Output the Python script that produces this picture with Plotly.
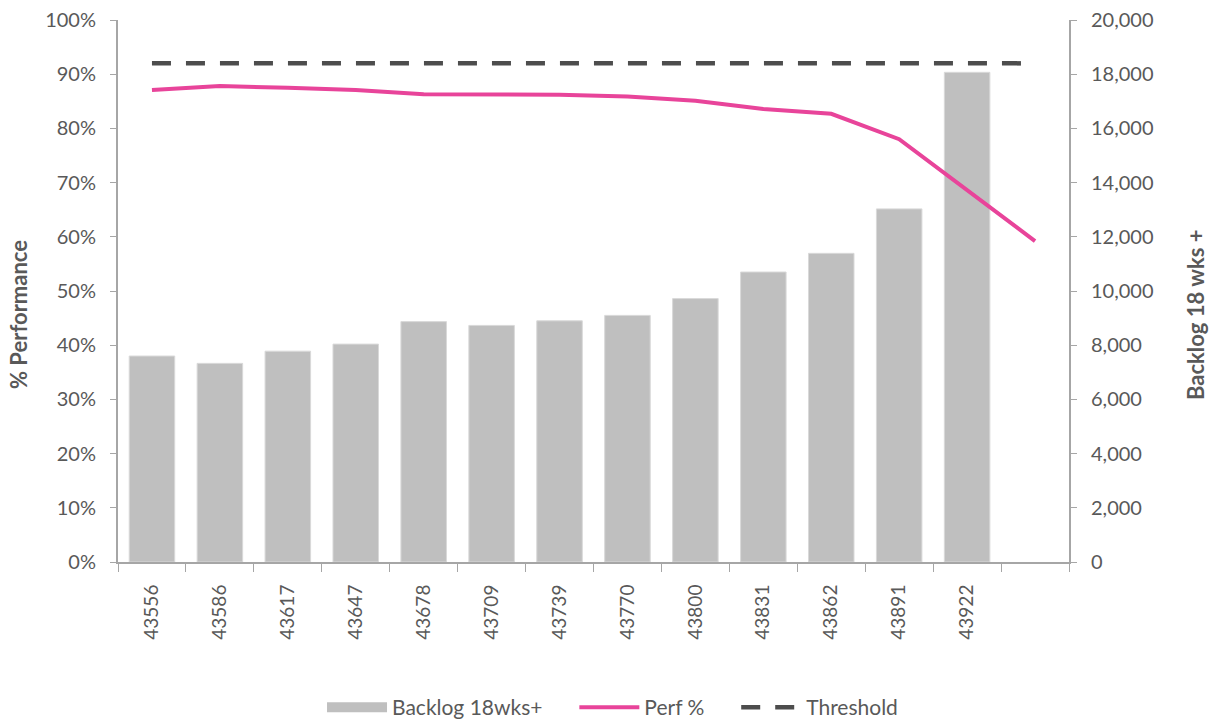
import plotly.graph_objects as go

# Month serials (last slot left blank on the category axis)
months = ["43556", "43586", "43617", "43647", "43678", "43709", "43739",
          "43770", "43800", "43831", "43862", "43891", "43922", " "]
backlog = [7600, 7330, 7780, 8040, 8870, 8730, 8900,
           9100, 9720, 10700, 11390, 13030, 18070]
perf = [0.871, 0.878, 0.875, 0.871, 0.863, 0.863, 0.862,
        0.859, 0.851, 0.836, 0.827, 0.780, 0.686, 0.592]
threshold = [0.92] * len(months)

FONT = "Lato"
TXT = "#595959"
AX = "#a6a6a6"
BAR = "#bfbfbf"
PAD = "\u00a0" * 5  # spacing after each legend label

fig = go.Figure()

fig.add_trace(go.Bar(
    x=months[:len(backlog)], y=backlog, name="Backlog 18wks+",
    marker=dict(color=BAR, line=dict(color="#d9d9d9", width=1)),
    width=0.67, yaxis="y", showlegend=False, legendgroup="backlog",
))
# wide swatch for the backlog legend entry
fig.add_trace(go.Scatter(
    x=[months[0]], y=[None], name="Backlog 18wks+" + PAD, mode="lines",
    line=dict(color=BAR, width=15), yaxis="y", legendgroup="backlog",
))
fig.add_trace(go.Scatter(
    x=months, y=perf, name="Perf %" + PAD, mode="lines",
    line=dict(color="#E8449A", width=4), yaxis="y2",
))
fig.add_trace(go.Scatter(
    x=months, y=threshold, name="Threshold", mode="lines",
    line=dict(color="#4d4d4d", width=4.5, dash="19px,15px"), yaxis="y2",
))

fig.update_layout(
    width=1217, height=722,
    margin=dict(l=118, r=148, t=20, b=160, autoexpand=False),
    plot_bgcolor="white", paper_bgcolor="white",
    font=dict(family=FONT, size=20, color=TXT),
    showlegend=True,
    legend=dict(orientation="h", x=0.52, xanchor="center",
                yref="container", y=0.02, yanchor="middle",
                font=dict(size=21, color=TXT), traceorder="normal",
                itemwidth=60),
    xaxis=dict(
        type="category", categoryorder="array", categoryarray=months,
        tickangle=-90, tickson="boundaries", ticks="outside", ticklen=8,
        tickcolor=AX, showline=True, linecolor=AX, linewidth=2,
        showgrid=False, tickfont=dict(size=19, color=TXT),
        ticklabelstandoff=13, automargin=False,
        range=[-0.5, len(months) - 0.5],
    ),
    yaxis=dict(
        side="right", range=[0, 20000], dtick=2000, tickformat=",",
        showline=True, linecolor=AX, linewidth=2, ticks="outside", ticklen=6,
        tickcolor=AX, showgrid=False, zeroline=False, automargin=False,
        tickfont=dict(size=20, color=TXT), ticklabelstandoff=10,
    ),
    yaxis2=dict(
        side="left", overlaying="y", range=[0, 1], dtick=0.1, tickformat=".0%",
        showline=True, linecolor=AX, linewidth=2, ticks="outside", ticklen=6,
        tickcolor=AX, showgrid=False, zeroline=False, automargin=False,
        tickfont=dict(size=20, color=TXT), ticklabelstandoff=10,
    ),
    annotations=[
        dict(text="<b>% Performance</b>", textangle=-90, showarrow=False,
             xref="paper", yref="paper", x=(18 - 118) / 951, y=(562 - 315) / 542,
             xanchor="center", yanchor="middle", font=dict(size=22, color=TXT)),
        dict(text="<b>Backlog 18 wks +</b>", textangle=-90, showarrow=False,
             xref="paper", yref="paper", x=(1195 - 118) / 951, y=(562 - 315) / 542,
             xanchor="center", yanchor="middle", font=dict(size=22, color=TXT)),
    ],
)

fig.write_html("out.html")
